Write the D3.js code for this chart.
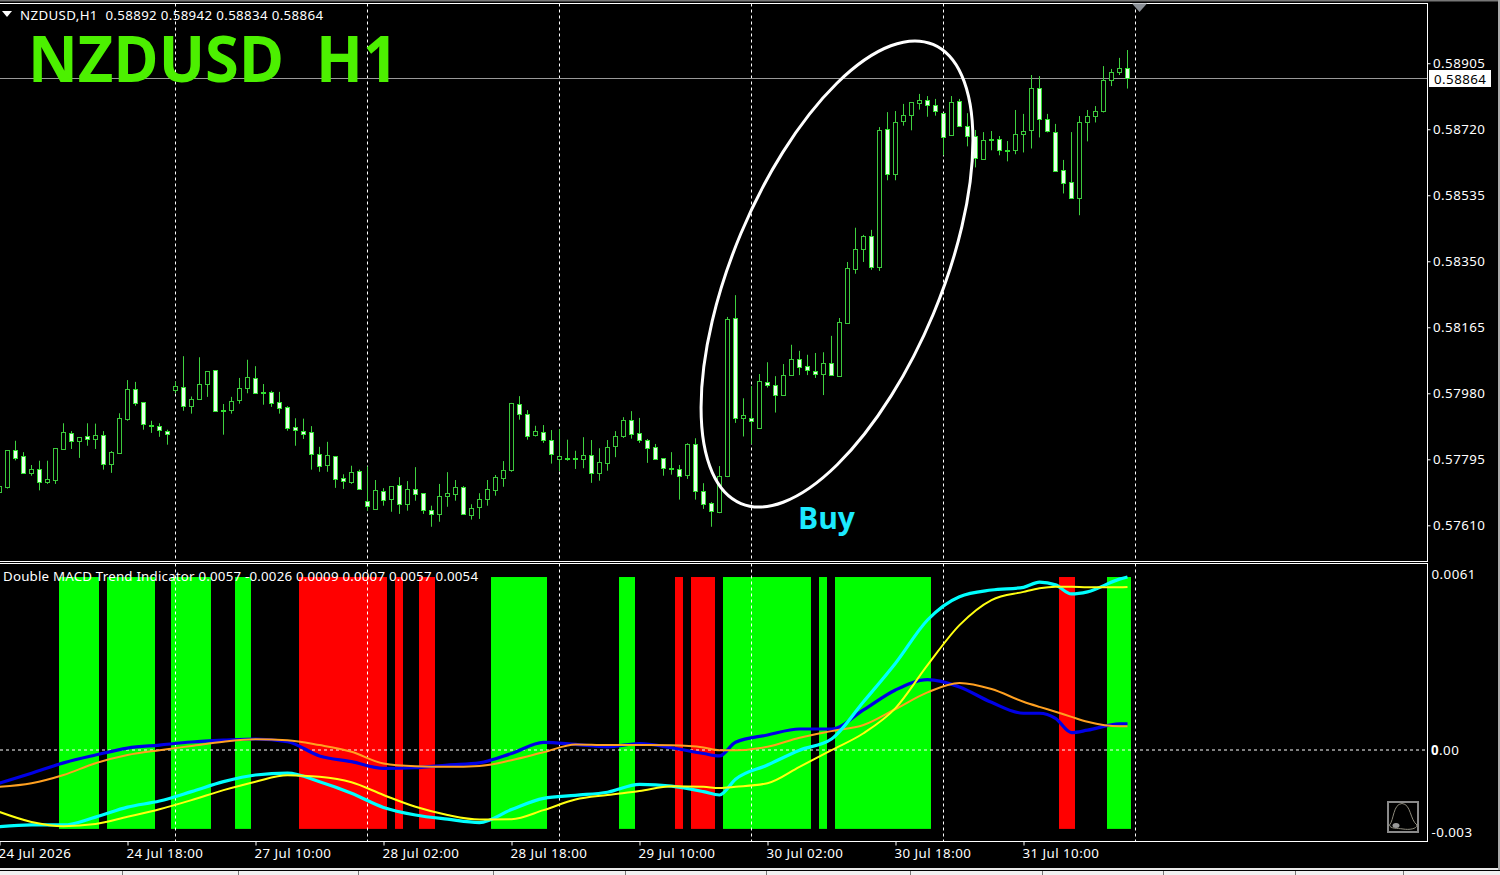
<!DOCTYPE html>
<html><head><meta charset="utf-8">
<script src="https://cdn.jsdelivr.net/npm/d3@7/dist/d3.min.js"></script>
<style>html,body{margin:0;padding:0;background:#000;overflow:hidden}svg{display:block}text{font-family:"Noto Sans",sans-serif}</style>
</head><body><svg id="c" width="1500" height="875"></svg>
<script>
// Prices in 1e-5 units, first bar index is -1
const open=[57702,57718,57821,57804,57757,57767,57732,57736,57825,57868,57845,57860,57853,57863,57781,57814,57909,57992,57955,57890,57888,57874,57988,57997,57943,57963,58005,58045,57933,57932,57960,57994,58023,57984,57983,57955,57941,57885,57874,57871,57809,57778,57804,57742,57732,57762,57678,57657,57706,57683,57723,57671,57711,57700,57653,57643,57691,57699,57717,57640,57660,57685,57708,57744,57764,57950,57922,57863,57871,57849,57797,57798,57798,57797,57807,57756,57786,57831,57861,57905,57868,57849,57829,57798,57770,57768,57750,57838,57706,57672,57648,57747,58190,57910,57910,57884,58011,58003,57974,58030,58075,58056,58042,58035,58064,58028,58178,58328,58383,58420,58335,58721,58594,58742,58760,58793,58802,58788,58765,58703,58799,58729,58701,58638,58692,58693,58662,58662,58706,58718,58836,58749,58712,58606,58571,58527,58739,58756,58770,58858,58880,58892];
const high=[57721,57821,57847,57815,57779,57791,57791,57826,57896,57874,57857,57896,57895,57874,57818,57924,58017,58012,57955,57903,57896,57878,58013,58084,57971,58081,58042,58045,57950,57970,58023,58074,58056,58006,57987,57984,57944,57910,57909,57888,57830,57844,57804,57753,57777,57766,57775,57737,57714,57720,57745,57734,57773,57700,57665,57726,57759,57737,57720,57669,57700,57737,57751,57790,57953,57972,57933,57889,57891,57877,57880,57850,57819,57857,57849,57826,57849,57874,57913,57930,57911,57852,57838,57798,57815,57779,57840,57854,57728,57675,57776,58194,58255,57966,58000,58034,58067,58028,58062,58116,58099,58088,58093,58095,58141,58191,58348,58444,58424,58438,58726,58768,58771,58791,58796,58819,58813,58805,58765,58813,58805,58765,58718,58712,58715,58701,58687,58774,58763,58872,58869,58763,58735,58634,58712,58757,58774,58785,58897,58889,58920,58942];
const low=[57700,57713,57792,57758,57749,57708,57726,57726,57822,57824,57799,57833,57824,57766,57757,57810,57903,57945,57878,57869,57858,57836,57980,57931,57923,57963,57970,57928,57864,57923,57951,57980,57982,57948,57942,57923,57875,57833,57852,57766,57760,57760,57715,57712,57726,57713,57651,57657,57665,57648,57642,57651,57679,57642,57606,57620,57662,57679,57643,57626,57628,57665,57693,57718,57760,57906,57850,57859,57841,57783,57762,57791,57768,57770,57729,57735,57763,57801,57855,57853,57841,57785,57794,57749,57752,57682,57740,57682,57656,57606,57644,57745,57897,57859,57838,57884,57996,57926,57974,58030,58031,58031,58023,57975,58031,58027,58178,58315,58348,58326,58323,58577,58577,58730,58717,58775,58755,58758,58647,58703,58728,58672,58613,58638,58661,58647,58630,58650,58655,58666,58697,58711,58603,58540,58527,58479,58686,58739,58767,58841,58872,58834];
const close=[57721,57821,57800,57758,57767,57730,57739,57826,57871,57845,57857,57851,57863,57781,57815,57910,57992,57954,57893,57888,57876,57865,58000,57943,57964,58006,58042,57931,57930,57958,57995,58025,57982,57982,57954,57940,57884,57876,57867,57809,57775,57807,57741,57733,57759,57713,57663,57709,57681,57720,57669,57711,57699,57653,57643,57692,57700,57717,57643,57658,57683,57711,57745,57765,57953,57921,57859,57874,57848,57809,57804,57797,57797,57807,57756,57787,57829,57860,57905,57865,57848,57826,57797,57770,57768,57747,57838,57706,57669,57649,57748,58187,57910,57918,57903,58014,58003,57975,58031,58075,58055,58044,58035,58064,58031,58179,58330,58384,58420,58335,58718,58594,58740,58760,58796,58802,58788,58771,58698,58796,58729,58701,58639,58690,58690,58662,58661,58707,58715,58836,58749,58714,58603,58569,58527,58740,58757,58771,58858,58880,58892,58864];

// Indicator lines, 1e-5 units, read at these bar indices
const lineBars=[-1,3,7,11,15,19,23,27,31,35,39,43,47,51,55,59,63,67,71,75,79,83,87,89,91,95,99,103,107,111,115,119,123,127,129,131,133,135,139,140];
const blueLine=[-111,-78,-44,-18,5,15,25,31,35,26,-21,-40,-62,-60,-51,-44,-13,24,17,9,20,6,-13,-21,24,48,68,68,131,197,231,207,156,120,120,103,56,64,85,85];
const orangeLine=[-123,-111,-84,-45,-18,-2,12,26,34,31,15,-7,-46,-55,-57,-54,-35,-9,17,15,15,14,7,-2,-2,9,39,61,81,134,189,220,200,158,141,125,108,92,77,77];
const cyanLine=[-255,-249,-249,-223,-190,-170,-139,-106,-84,-78,-106,-144,-191,-216,-230,-241,-198,-161,-151,-141,-115,-121,-139,-150,-98,-51,-2,35,158,285,428,505,527,536,553,544,514,521,563,570];
const yellowLine=[-206,-239,-253,-246,-222,-197,-167,-134,-106,-85,-90,-108,-150,-189,-216,-231,-230,-200,-165,-150,-137,-121,-123,-127,-123,-111,-57,-2,54,137,279,411,494,521,533,538,538,536,536,537];

// Trend histogram runs [first bar,last bar]
const greenRuns=[[7,11],[13,18],[21,25],[29,30],[61,67],[77,78],[90,100],[102,102],[104,115],[138,140]];
const redRuns=[[37,47],[49,49],[52,53],[84,84],[86,88],[132,133]];
const histTop=570, histBottom=-262;

const priceTicks=[58905,58720,58535,58350,58165,57980,57795,57610];
const gridBars=[21,45,69,93,117,141];
const timeBars=[-1,15,31,47,63,79,95,111,127];
const timeLabels=["24 Jul 2026","24 Jul 18:00","27 Jul 10:00","28 Jul 02:00","28 Jul 18:00","29 Jul 10:00","30 Jul 02:00","30 Jul 18:00","31 Jul 10:00"];
const lastPrice=58864;
const statusTicks=[122,238,358,493,625,766,910,1042,1163,1295,1403];

const R=1428, MT=3.5, MB=561.5, IT=563.5, IB=841.5;
const svg=d3.select("#c");
svg.append("rect").attr("width",1500).attr("height",875).attr("fill","#000");
const defs=svg.append("defs");
defs.append("clipPath").attr("id","mc").append("rect").attr("x",0).attr("y",MT).attr("width",R).attr("height",MB-MT);
defs.append("clipPath").attr("id","ic").append("rect").attr("x",0).attr("y",IT).attr("width",R).attr("height",IB-IT);

const x=d3.scaleLinear().domain([0,140]).range([7.5,1127.5]);
const y=d3.scaleLinear().domain([57510,59071]).range([561,4]);
const yi=d3.scaleLinear().domain([-302,613]).range([841,564]);
const snap=v=>Math.round(v)+.5;

// grid
const main=svg.append("g").attr("clip-path","url(#mc)");
const ind=svg.append("g").attr("clip-path","url(#ic)");
gridBars.forEach(k=>{
  main.append("line").attr("x1",x(k)).attr("x2",x(k)).attr("y1",MT).attr("y2",MB).attr("stroke","#fff").attr("stroke-dasharray","3,3");
});
// last price line
main.append("line").attr("x1",0).attr("x2",R).attr("y1",snap(y(lastPrice))).attr("y2",snap(y(lastPrice))).attr("stroke","#999");

// candles
const bars=d3.range(open.length).map(i=>({k:i-1,o:open[i],h:high[i],l:low[i],c:close[i]}));
const cg=main.selectAll("g.b").data(bars).join("g").attr("class","b");
cg.append("line").attr("x1",d=>x(d.k)).attr("x2",d=>x(d.k)).attr("y1",d=>y(d.h)).attr("y2",d=>y(d.l)).attr("stroke","#3fd23f");
cg.append("rect").attr("x",d=>x(d.k)-2).attr("width",4)
  .attr("y",d=>snap(y(Math.max(d.o,d.c))))
  .attr("height",d=>Math.max(1,Math.round(y(Math.min(d.o,d.c)))-Math.round(y(Math.max(d.o,d.c)))))
  .attr("fill",d=>d.c>=d.o?"#000":"#eaffea")
  .attr("stroke",d=>d.c>=d.o?"#3cc83c":"#30e030");

// histogram
const hist=(runs,col)=>runs.forEach(r=>d3.range(r[0],r[1]+1).forEach(k=>{
  ind.append("rect").attr("x",x(k)-4.5).attr("width",8).attr("y",yi(histTop)).attr("height",yi(histBottom)-yi(histTop)).attr("fill",col);
}));
hist(greenRuns,"#00ff00"); hist(redRuns,"#ff0000");

// zero line + grid in indicator
gridBars.forEach(k=>{
  ind.append("line").attr("x1",x(k)).attr("x2",x(k)).attr("y1",IT).attr("y2",IB).attr("stroke","#fff").attr("stroke-dasharray","3,3");
});
ind.append("line").attr("x1",0).attr("x2",R).attr("y1",snap(yi(0))-.5).attr("y2",snap(yi(0))-.5).attr("stroke","#fff").attr("stroke-dasharray","3,3");

// lines
const lg=d3.line().x((d,i)=>x(lineBars[i])).y(d=>yi(d)).curve(d3.curveMonotoneX);
[[blueLine,"#0000e6",3.2],[orangeLine,"#ffa020",2],[cyanLine,"#00ffff",3.2],[yellowLine,"#ffff10",2]].forEach(([s,c,w])=>{
  ind.append("path").attr("d",lg(s)).attr("fill","none").attr("stroke",c).attr("stroke-width",w);
});

// borders
const border=(x1,y1,x2,y2,col)=>svg.append("line").attr("x1",x1).attr("y1",y1).attr("x2",x2).attr("y2",y2).attr("stroke",col||"#fff");
border(0,MT,R,MT);border(R-.5,MT,R-.5,MB);border(0,MB,R,MB);
border(0,IT,R,IT);border(R-.5,IT,R-.5,IB);border(0,IB,R,IB);

const fs=13.3;
// price axis
const ax=svg.append("g").attr("transform",`translate(${R-.5},0)`).call(d3.axisRight(y).tickValues(priceTicks).tickSize(3).tickFormat(d=>(d/1e5).toFixed(5)));
ax.select(".domain").remove();
ax.selectAll("line").attr("stroke","#fff");
ax.selectAll("text").attr("fill","#fff").attr("font-size",fs).attr("x",5.5).attr("letter-spacing",.45).style("font-family",'"Noto Sans"');
// last price box
svg.append("rect").attr("x",1429).attr("y",70).attr("width",62).attr("height",17).attr("fill","#fff");
svg.append("text").attr("x",1434).attr("y",83.5).attr("font-size",fs).attr("letter-spacing",.45).attr("fill","#000").text((lastPrice/1e5).toFixed(5));
// top marker triangle
svg.append("path").attr("d","M1132,3.5L1147,3.5L1139.5,12Z").attr("fill","#8a8f96");

// indicator axis labels
const ilab=(t,yy)=>svg.append("text").attr("x",1431.5).attr("y",yy).attr("font-size",fs).attr("letter-spacing",.45).attr("fill","#fff").text(t);
ilab("0.0061",578.5);ilab("-0.003",836.5);
const z0=svg.append("text").attr("x",1431).attr("y",754.5).attr("font-size",fs).attr("letter-spacing",.45).attr("fill","#fff");
z0.append("tspan").attr("font-weight","bold").text("0");z0.append("tspan").text(".00");

// time axis
const tx=svg.append("g").attr("transform",`translate(0,${IB})`).call(d3.axisBottom(x).tickValues(timeBars).tickSize(4).tickFormat((d,i)=>timeLabels[i]));
tx.select(".domain").remove();
tx.selectAll("line").attr("stroke","#fff");
tx.selectAll("text").attr("fill","#fff").attr("font-size",fs).attr("text-anchor","start").attr("letter-spacing",.45).attr("y",7).attr("dx",-1.5).style("font-family",'"Noto Sans"');

// legends
svg.append("path").attr("d","M2,11L12,11L7,17Z").attr("fill","#fff");
svg.append("text").attr("x",20).attr("y",19.5).attr("font-size",fs).attr("fill","#fff").attr("xml:space","preserve").attr("textLength",303).text("NZDUSD,H1  0.58892 0.58942 0.58834 0.58864");
svg.append("text").attr("x",3).attr("y",580.5).attr("font-size",fs).attr("fill","#fff").attr("textLength",475).text("Double MACD Trend Indicator 0.0057 -0.0026 0.0009 0.0007 0.0057 0.0054");

// title
svg.append("text").attr("x",28).attr("y",82).attr("font-size",64).attr("font-weight","bold").attr("fill","#4cf000").attr("xml:space","preserve").attr("textLength",370).attr("lengthAdjust","spacingAndGlyphs").style("font-family",'"Open Sans"').text("NZDUSD  H1");

// ellipse annotation
svg.append("ellipse").attr("rx",248.8).attr("ry",104.3).attr("transform","translate(837,274) rotate(-67.3)").attr("fill","none").attr("stroke","#fff").attr("stroke-width",3);
svg.append("text").attr("x",798).attr("y",529).attr("font-size",30).attr("font-weight","bold").attr("fill","#1ceaff").style("font-family",'"Open Sans"').text("Buy");

// bell icon
const bell=svg.append("g");
bell.append("rect").attr("x",1388).attr("y",802).attr("width",30).attr("height",30).attr("fill","#000").attr("stroke","#8a8a8a").attr("stroke-width",2);
bell.append("path").attr("d","M1389.5,825C1394,820 1393,804 1402,803.5C1411,804 1410,820 1417,825C1417,829 1409,830 1403,829C1397,828 1390,829 1389.5,825Z").attr("fill","none").attr("stroke","#8d8a7c");
bell.append("ellipse").attr("cx",1396).attr("cy",825.5).attr("rx",3.5).attr("ry",2.5).attr("fill","#999");

// window frame
svg.append("rect").attr("x",0).attr("y",0).attr("width",1500).attr("height",1.5).attr("fill","#777");
svg.append("rect").attr("x",0).attr("y",868).attr("width",1500).attr("height",2).attr("fill","#e8e8e8");
svg.append("rect").attr("x",0).attr("y",870).attr("width",1500).attr("height",1).attr("fill","#000");
svg.append("rect").attr("x",0).attr("y",871).attr("width",1500).attr("height",4).attr("fill","#f0f0f0");
statusTicks.forEach(t=>svg.append("line").attr("x1",t+.5).attr("x2",t+.5).attr("y1",871).attr("y2",875).attr("stroke","#777"));
svg.append("rect").attr("x",1498).attr("y",0).attr("width",2).attr("height",870).attr("fill","#aaa");
</script></body></html>
